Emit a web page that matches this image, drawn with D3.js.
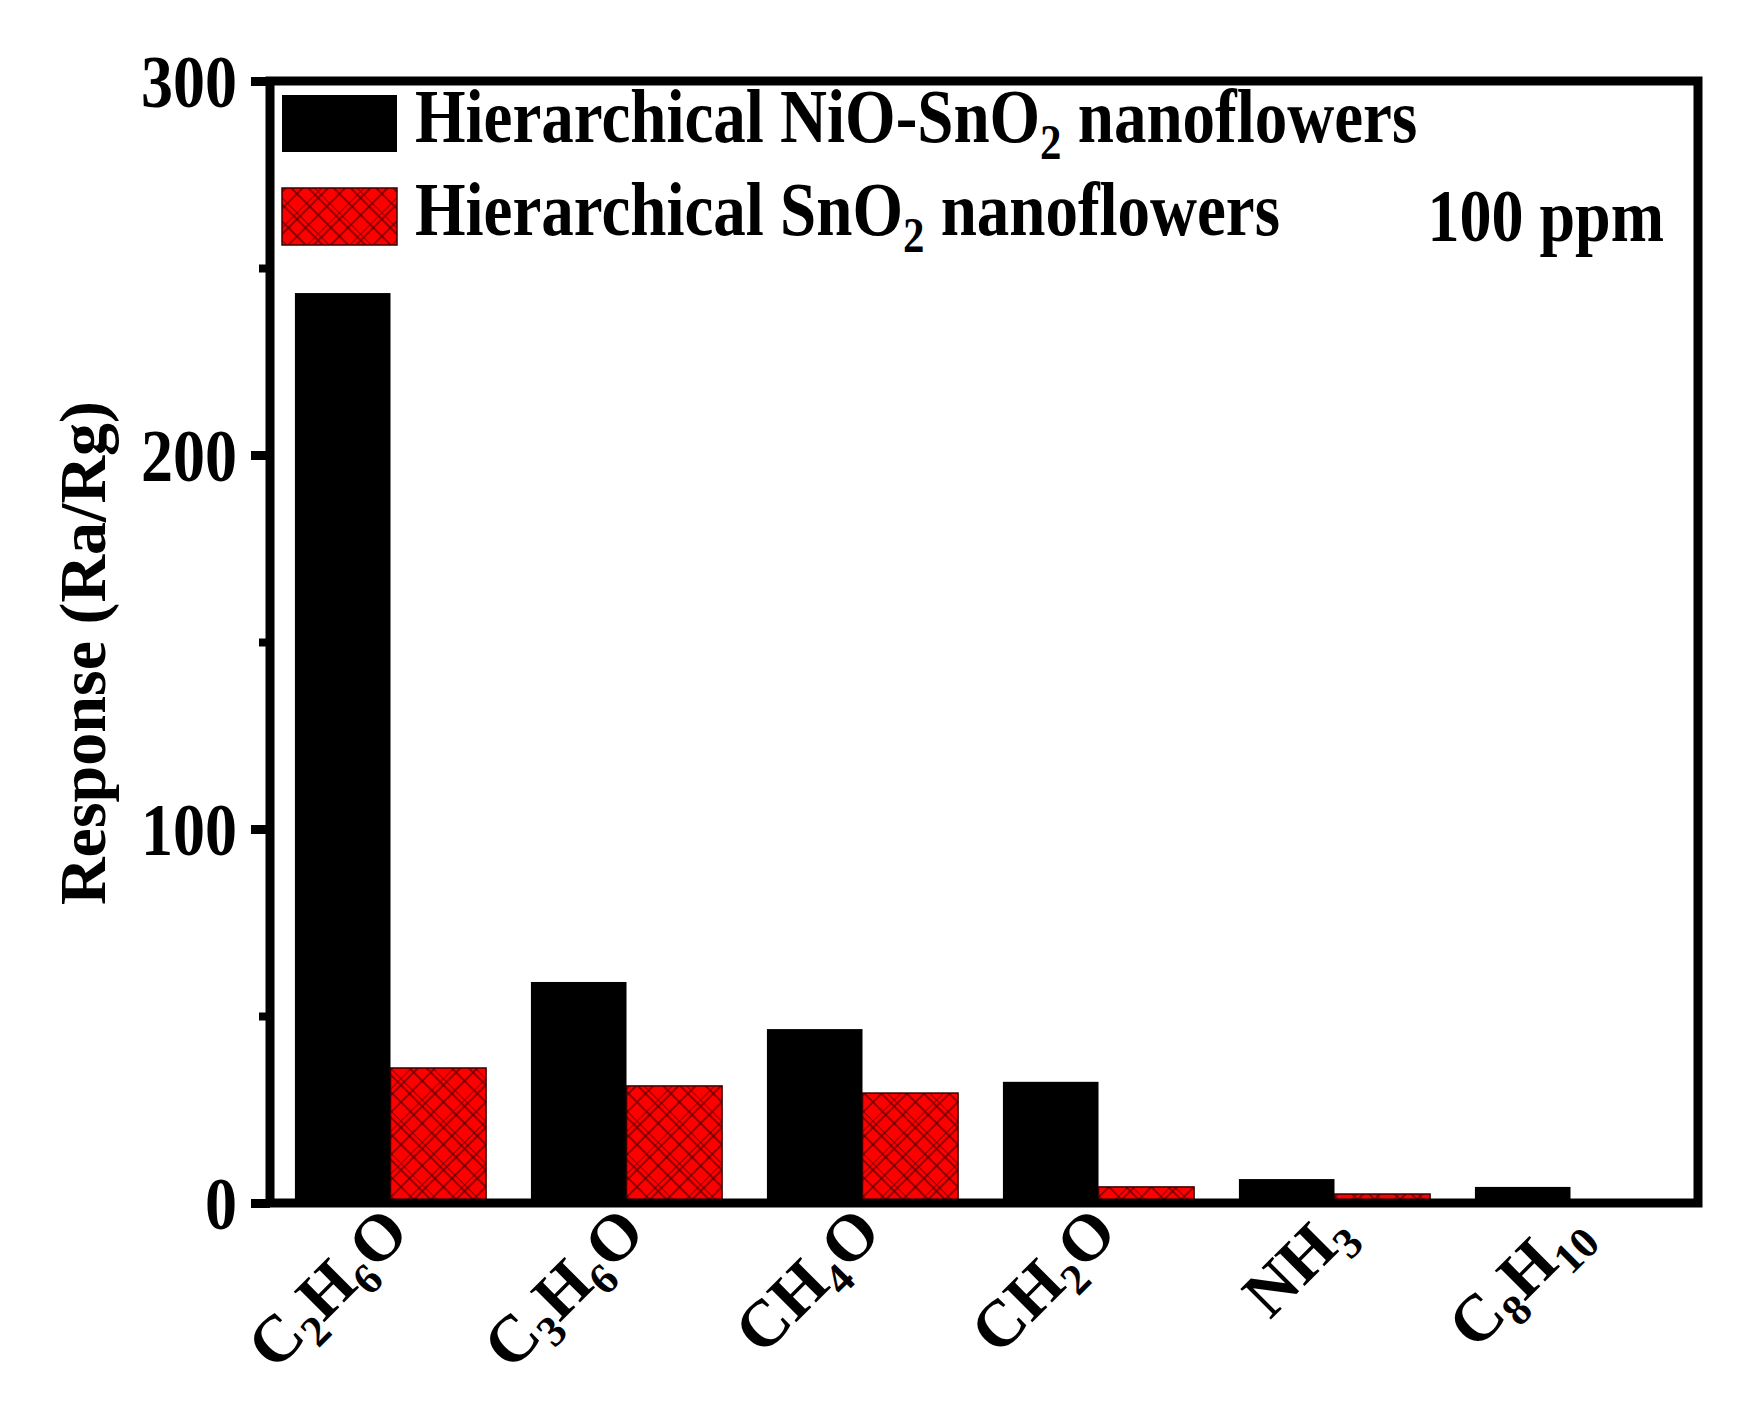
<!DOCTYPE html>
<html>
<head>
<meta charset="utf-8">
<script src="https://cdn.jsdelivr.net/npm/d3@7"></script>
<style>
  body { margin: 0; background: #fff; }
  text { font-family: "Liberation Serif", "Times New Roman", serif; font-weight: bold; fill: #000; }
</style>
</head>
<body>
<div id="chart"></div>
<script>
// gases on the x axis (digits are drawn as subscripts)
const gases = ['C2H6O', 'C3H6O', 'CH4O', 'CH2O', 'NH3', 'C8H10'];
// response values
const nioSno2 = [243.3, 59.1, 46.5, 32.4, 6.4, 4.3];
const sno2 = [36.1, 31.3, 29.4, 4.3, 2.4, 0.8];
const seriesNames = ['Hierarchical NiO-SnO2 nanoflowers', 'Hierarchical SnO2 nanoflowers'];
const yTicks = [0, 100, 200, 300];
const yMinor = [50, 150, 250];

const W = 1757, H = 1402;
const margin = {left: 270, top: 81, right: 59, bottom: 199};
const plotW = W - margin.left - margin.right;
const plotH = H - margin.top - margin.bottom;
const stretch = 1.16; // the source figure's text is a little taller than wide

const svg = d3.select('#chart').append('svg')
  .attr('width', W)
  .attr('height', H)
  .style('background', '#fff');

// red plaid hatch used by the SnO2 bars
const defs = svg.append('defs');
const pat = defs.append('pattern')
  .attr('id', 'plaid')
  .attr('patternUnits', 'userSpaceOnUse')
  .attr('width', 30)
  .attr('height', 30)
  .attr('patternTransform', 'rotate(45)');
pat.append('rect').attr('width', 30).attr('height', 30).attr('fill', '#ff0000');
[0, 5, 17].forEach(p => {
  pat.append('line').attr('x1', p).attr('x2', p).attr('y1', 0).attr('y2', 30)
    .attr('stroke', '#4a0000').attr('stroke-width', 1.4).attr('stroke-opacity', 0.85);
  pat.append('line').attr('y1', p).attr('y2', p).attr('x1', 0).attr('x2', 30)
    .attr('stroke', '#4a0000').attr('stroke-width', 1.4).attr('stroke-opacity', 0.85);
});

const g = svg.append('g').attr('transform', `translate(${margin.left},${margin.top})`);

const x0 = d3.scaleBand()
  .domain(gases)
  .range([2.5, 1418.5])
  .paddingInner(0.19)
  .paddingOuter(0.095);

const x1 = d3.scaleBand()
  .domain([0, 1])
  .range([0, x0.bandwidth()]);

const y = d3.scaleLinear()
  .domain([0, 300])
  .range([plotH, 0]);

const rows = gases.map((gas, i) => ({gas, values: [nioSno2[i], sno2[i]]}));

// bars
const groups = g.selectAll('.grp')
  .data(rows)
  .enter().append('g')
  .attr('class', 'grp')
  .attr('transform', d => `translate(${x0(d.gas)},0)`);

groups.selectAll('rect')
  .data(d => d.values.map((v, k) => ({k, v})))
  .enter().append('rect')
  .attr('x', d => x1(d.k))
  .attr('width', x1.bandwidth())
  .attr('y', d => y(d.v))
  .attr('height', d => y(0) - y(d.v))
  .attr('fill', d => d.k === 0 ? '#000' : 'url(#plaid)')
  .attr('stroke', d => d.k === 0 ? 'none' : '#3a0000')
  .attr('stroke-width', 1.5);

// frame
g.append('rect')
  .attr('x', 0).attr('y', 0)
  .attr('width', plotW).attr('height', plotH)
  .attr('fill', 'none')
  .attr('stroke', '#000')
  .attr('stroke-width', 9);

// left axis: major and minor ticks
const yAxis = g.append('g')
  .call(d3.axisLeft(y).tickValues(yTicks).tickSize(19).tickPadding(14).tickFormat(d3.format('d')));
yAxis.select('.domain').remove();
yAxis.selectAll('.tick line').attr('stroke', '#000').attr('stroke-width', 9);
yAxis.selectAll('.tick text')
  .attr('font-size', 64)
  .attr('font-family', '"Liberation Serif", serif')
  .attr('font-weight', 'bold')
  .attr('fill', '#000')
  .attr('dy', '0.34em')
  .attr('transform', `scale(1,${stretch})`);

const yMinorAxis = g.append('g')
  .call(d3.axisLeft(y).tickValues(yMinor).tickSize(11).tickFormat(''));
yMinorAxis.select('.domain').remove();
yMinorAxis.selectAll('.tick line').attr('stroke', '#000').attr('stroke-width', 8);

// text with digits as subscripts
function chem(sel, str, size) {
  const parts = str.split(/(\d+)/).filter(s => s.length);
  let sub = false;
  parts.forEach(p => {
    const isNum = /^\d+$/.test(p);
    const t = sel.append('tspan').text(p);
    if (isNum && !sub) {
      t.attr('font-size', size * 0.66).attr('dy', size * 0.22);
      sub = true;
    } else if (!isNum && sub) {
      t.attr('dy', -size * 0.22);
      sub = false;
    }
  });
}

// rotated x labels
const xLab = g.append('g');
gases.forEach(gas => {
  const t = xLab.append('text')
    .attr('font-size', 66)
    .attr('text-anchor', 'end')
    .attr('transform', `translate(${x0(gas) + x1.bandwidth() + 21},${plotH + 32}) rotate(-45)`);
  chem(t, gas, 66);
});

// y label
svg.append('text')
  .attr('font-size', 66)
  .attr('text-anchor', 'middle')
  .attr('transform', 'translate(105,653) rotate(-90)')
  .text('Response (Ra/Rg)');

// legend
const legend = svg.append('g');
const legendY = [95, 188];
seriesNames.forEach((name, i) => {
  legend.append('rect')
    .attr('x', 282).attr('y', legendY[i])
    .attr('width', 115).attr('height', 57)
    .attr('fill', i === 0 ? '#000' : 'url(#plaid)')
    .attr('stroke', i === 0 ? 'none' : '#3a0000')
    .attr('stroke-width', 1.5);
  const t = legend.append('text')
    .attr('font-size', 65)
    .attr('transform', `translate(415,${legendY[i] + 47}) scale(1,${stretch})`);
  chem(t, name, 65);
});

svg.append('text')
  .attr('text-anchor', 'end')
  .attr('font-size', 64)
  .attr('transform', `translate(1664,241) scale(1,${stretch})`)
  .text('100 ppm');
</script>
</body>
</html>
